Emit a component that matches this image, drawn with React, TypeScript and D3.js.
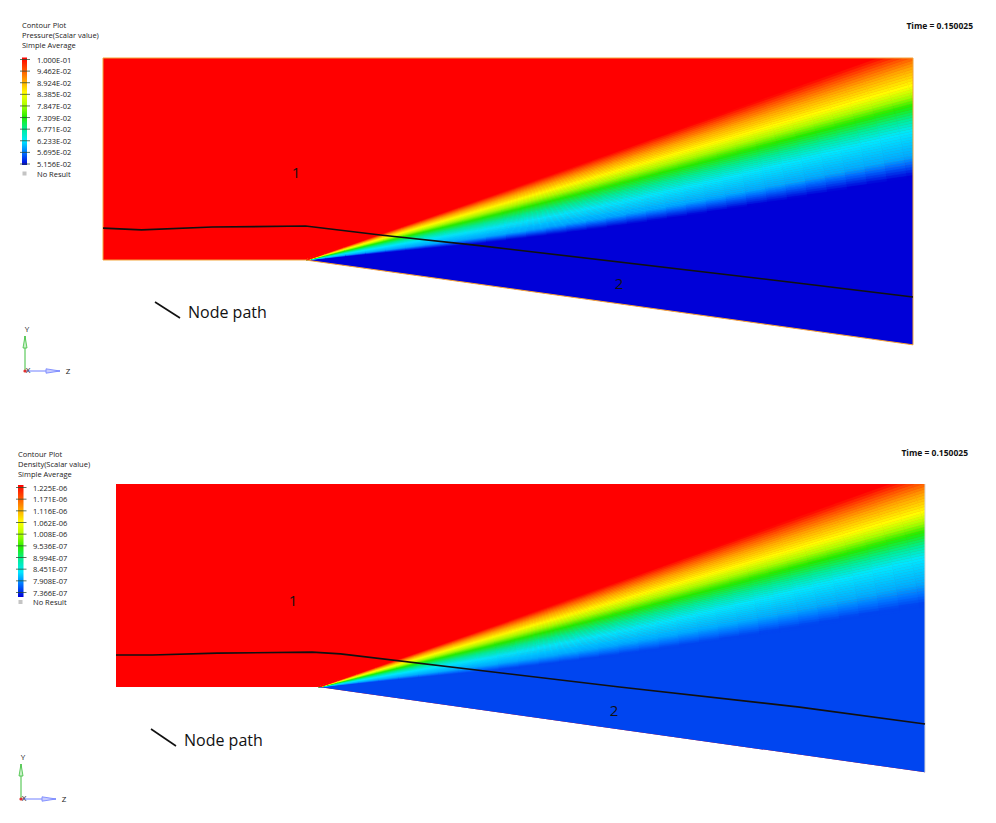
import React from "react";
import * as d3 from "d3";

// ---- geometry of the duct (model units: z along flow, y up) ----
const domainZ = [0, 4.0, 4.0, 1.0, 0];
const domainY = [1.0, 1.0, -0.42, 0, 0];
const cornerZ = 1.0;
const cornerY = 0.0;

// ---- legend ticks (top to bottom) ----
const pressureTicks = [
  "1.000E-01", "9.462E-02", "8.924E-02", "8.385E-02", "7.847E-02",
  "7.309E-02", "6.771E-02", "6.233E-02", "5.695E-02", "5.156E-02",
];
const pressureTickValues = [0.1, 0.09462, 0.08924, 0.08385, 0.07847, 0.07309, 0.06771, 0.06233, 0.05695, 0.05156];
const densityTicks = [
  "1.225E-06", "1.171E-06", "1.116E-06", "1.062E-06", "1.008E-06",
  "9.536E-07", "8.994E-07", "8.451E-07", "7.908E-07", "7.366E-07",
];
const densityTickValues = [1.225e-6, 1.171e-6, 1.116e-6, 1.062e-6, 1.008e-6, 9.536e-7, 8.994e-7, 8.451e-7, 7.908e-7, 7.366e-7];
const legendColours = [
  "#ff0000", "#ff5200", "#ffa800", "#ffff00", "#aaff00",
  "#22ee00", "#00ee99", "#00e8ff", "#0070ff", "#0000d8",
];

// ---- expansion fan: angle (deg) from the corner at which each field value is reached ----
const fanAnglesNear = [5.6, 7.4, 9.8, 13.5, 16.0, 17.4, 18.4, 19.2];
const fanAnglesFar = [7.9, 9.75, 12.0, 14.3, 16.1, 17.6, 18.7, 19.6];
const fanRadii = [0.86, 3.0];
const pressureProfile = [0.05156, 0.0595, 0.06233, 0.07309, 0.08385, 0.08924, 0.09462, 0.1];
const densityProfile = [7.7e-7, 8.18e-7, 8.451e-7, 9.536e-7, 1.062e-6, 1.116e-6, 1.171e-6, 1.225e-6];

// ---- node path polylines ----
const pressurePathZ = [0, 0.19, 0.54, 1.0, 1.37, 1.87, 3.45, 4.0];
const pressurePathY = [0.158, 0.149, 0.163, 0.168, 0.124, 0.07, -0.116, -0.183];
const densityPathZ = [0, 0.18, 0.5, 0.97, 1.11, 2.49, 3.38, 4.0];
const densityPathY = [0.158, 0.158, 0.167, 0.172, 0.163, 0.0, -0.099, -0.182];

// ---- region labels ----
const pressureRegionLabels = [
  { text: "1", z: 0.953, y: 0.436 },
  { text: "2", z: 2.548, y: -0.114 },
];
const densityRegionLabels = [
  { text: "1", z: 0.875, y: 0.429 },
  { text: "2", z: 2.462, y: -0.113 },
];

const FONT = "'Open Sans', 'DejaVu Sans', sans-serif";

type PanelCfg = {
  id: string;
  left: number; right: number; top: number; base: number;
  quantity: string;
  ticks: string[]; tickValues: number[]; profile: number[];
  pathZ: number[]; pathY: number[];
  labels: { text: string; z: number; y: number }[];
  legendX: number; titleY: number; barTop: number; barBottom: number; tickTop: number; tickBottom: number; barW: number;
  timeX: number; timeY: number;
  triX: number; triY: number; triLen: number;
  nodeLine: [number, number, number, number];
  outline: boolean;
};

function Panel({ c }: { c: PanelCfg }) {
  const sx = d3.scaleLinear().domain([0, 4]).range([c.left, c.right]);
  const sy = d3.scaleLinear().domain([0, 1]).range([c.base, c.top]);
  const colour = d3
    .scaleLinear<string>()
    .domain(c.tickValues)
    .range(legendColours)
    .interpolate(d3.interpolateRgb)
    .clamp(true);

  const domainPts = domainZ.map((z, i) => [sx(z), sy(domainY[i])] as [number, number]);
  const domainPath = "M" + domainPts.map((p) => p.join(",")).join("L") + "Z";

  const rad = Math.PI / 180;
  const pt = (r: number, a: number) =>
    `${sx(cornerZ + r * Math.cos(a * rad)).toFixed(2)},${sy(cornerY + r * Math.sin(a * rad)).toFixed(2)}`;

  // polar mesh of the fan
  const cells: { d: string; fill: string }[] = [];
  const dr = 0.1, nR = 34, da = 0.25, aMin = -9.5;
  const nA = Math.ceil((21 - aMin) / da);
  for (let i = 0; i < nR; i++) {
    const r0 = i * dr, r1 = (i + 1) * dr, rm = (r0 + r1) / 2;
    const w = Math.max(0, Math.min(1, (rm - fanRadii[0]) / (fanRadii[1] - fanRadii[0])));
    const angs = fanAnglesNear.map((n, k) => n + (fanAnglesFar[k] - n) * w);
    const val = d3.scaleLinear().domain(angs).range(c.profile).clamp(true);
    for (let j = 0; j < nA; j++) {
      const a0 = aMin + j * da, a1 = a0 + da, am = (a0 + a1) / 2;
      if (am > angs[angs.length - 1] + da) continue;
      if (a1 < angs[0] - da) continue;
      const fill = colour(val(am));
      cells.push({ d: `M${pt(r0, a0)}L${pt(r1, a0)}L${pt(r1, a1)}L${pt(r0, a1)}Z`, fill });
    }
  }
  // uniform downstream region underneath the fan mesh
  const baseAngles = [aMin, fanAnglesFar[0] + 1];
  const Rmax = nR * dr;
  const baseWedge = `M${pt(0, 0)}L${pt(Rmax, baseAngles[0])}L${pt(Rmax, baseAngles[1])}Z`;
  const baseColour = colour(c.profile[0]);

  const line = d3
    .line<number>()
    .x((_, i) => sx(c.pathZ[i]))
    .y((_, i) => sy(c.pathY[i]));

  const nT = c.ticks.length;
  const tickY = d3.scaleLinear().domain([0, nT - 1]).range([c.tickTop, c.tickBottom]);
  const gradId = `grad-${c.id}`;
  const clipId = `clip-${c.id}`;
  const titleLines = ["Contour Plot", `${c.quantity}(Scalar value)`, "Simple Average"];

  const ox = c.triX, oy = c.triY, L = c.triLen;

  return (
    <g>
      <defs>
        <clipPath id={clipId}>
          <path d={domainPath} />
        </clipPath>
        <linearGradient id={gradId} x1="0" y1="0" x2="0" y2="1">
          {legendColours.map((col, i) => (
            <stop key={i} offset={`${(i / (legendColours.length - 1)) * 100}%`} stopColor={col} />
          ))}
        </linearGradient>
      </defs>

      {/* field */}
      <path d={domainPath} fill="#ff0000" />
      <g clipPath={`url(#${clipId})`}>
        <path d={baseWedge} fill={baseColour} />
        {cells.map((cl, i) => (
          <path key={i} d={cl.d} fill={cl.fill} stroke={cl.fill} strokeWidth={0.6} />
        ))}
      </g>
      {c.outline ? (
        <path d={domainPath} fill="none" stroke="#f3a53a" strokeWidth={1} />
      ) : (
        <line x1={sx(4)} y1={sy(1)} x2={sx(4)} y2={sy(-0.42)} stroke="#d8d8d8" strokeWidth={1} />
      )}

      {/* node path */}
      <path d={line(c.pathZ) || ""} fill="none" stroke="#111" strokeWidth={1.6} />

      {c.labels.map((l, i) => (
        <text key={i} x={sx(l.z)} y={sy(l.y)} fontFamily={FONT} fontSize={15} fill="#111" textAnchor="middle" dominantBaseline="central">
          {l.text}
        </text>
      ))}

      <line x1={c.nodeLine[0]} y1={c.nodeLine[1]} x2={c.nodeLine[2]} y2={c.nodeLine[3]} stroke="#111" strokeWidth={1.6} />
      <text x={c.nodeLine[2] + 8} y={c.nodeLine[3] - 6} fontFamily={FONT} fontSize={16} fill="#111" dominantBaseline="central">
        Node path
      </text>

      {/* legend */}
      {titleLines.map((t, i) => (
        <text key={i} x={c.legendX} y={c.titleY + i * 10} fontFamily={FONT} fontSize={7.5} fill="#222" dominantBaseline="central">
          {t}
        </text>
      ))}
      <rect x={c.legendX} y={c.barTop} width={c.barW} height={c.barBottom - c.barTop} fill={`url(#${gradId})`} />
      {c.ticks.map((t, i) => (
        <g key={i}>
          <line x1={c.legendX - 2} x2={c.legendX + c.barW + 3} y1={tickY(i)} y2={tickY(i)} stroke="#2a4a30" strokeOpacity={0.75} strokeWidth={1} />
          <text x={c.legendX + 15} y={tickY(i)} fontFamily={FONT} fontSize={7.5} fill="#222" dominantBaseline="central">
            {t}
          </text>
        </g>
      ))}
      <rect x={c.legendX + 0.5} y={c.tickBottom + 7.5} width={4} height={4} fill="#c4c4c4" />
      <text x={c.legendX + 15} y={c.tickBottom + 9.5} fontFamily={FONT} fontSize={7.5} fill="#222" dominantBaseline="central">
        No Result
      </text>

      {/* time */}
      <text x={c.timeX} y={c.timeY} fontFamily={FONT} fontSize={8.5} fontWeight="bold" fill="#111" textAnchor="end" dominantBaseline="central">
        Time = 0.150025
      </text>

      {/* axis triad */}
      <line x1={ox} y1={oy} x2={ox} y2={oy - L} stroke="#3cbf3c" strokeWidth={1} />
      <path d={`M${ox},${oy - L}L${ox - 2},${oy - L + 12}L${ox + 2},${oy - L + 12}Z`} fill="#c9f0c9" stroke="#3cbf3c" strokeWidth={0.8} />
      <line x1={ox} y1={oy} x2={ox + L} y2={oy} stroke="#7080ff" strokeWidth={1} />
      <path d={`M${ox + L},${oy}L${ox + L - 14},${oy - 2.2}L${ox + L - 14},${oy + 2.2}Z`} fill="#c8ccff" stroke="#7080ff" strokeWidth={0.8} />
      <circle cx={ox} cy={oy} r={1.6} fill="#e03030" />
      <text x={ox + 2} y={oy - L - 8} fontFamily={FONT} fontSize={8} fill="#222" textAnchor="middle" dominantBaseline="central">Y</text>
      <text x={ox + 3} y={oy - 2} fontFamily={FONT} fontSize={8} fill="#222" textAnchor="middle" dominantBaseline="central">X</text>
      <text x={ox + L + 8} y={oy - 1} fontFamily={FONT} fontSize={8} fill="#222" textAnchor="middle" dominantBaseline="central">Z</text>
    </g>
  );
}

const topPanel: PanelCfg = {
  id: "p", left: 103, right: 913, top: 58, base: 260,
  quantity: "Pressure",
  ticks: pressureTicks, tickValues: pressureTickValues, profile: pressureProfile,
  pathZ: pressurePathZ, pathY: pressurePathY, labels: pressureRegionLabels,
  legendX: 22, titleY: 25, barTop: 57.5, barBottom: 165, tickTop: 59.5, tickBottom: 164, barW: 5,
  timeX: 973, timeY: 25,
  triX: 25, triY: 371, triLen: 35,
  nodeLine: [155, 302, 180, 318],
  outline: true,
};

const bottomPanel: PanelCfg = {
  id: "d", left: 116, right: 925, top: 484, base: 687,
  quantity: "Density",
  ticks: densityTicks, tickValues: densityTickValues, profile: densityProfile,
  pathZ: densityPathZ, pathY: densityPathY, labels: densityRegionLabels,
  legendX: 18, titleY: 454, barTop: 485, barBottom: 597, tickTop: 487.5, tickBottom: 592.5, barW: 5.5,
  timeX: 968, timeY: 452,
  triX: 21, triY: 799, triLen: 35,
  nodeLine: [151, 729, 176, 746],
  outline: false,
};

export default function App() {
  return (
    <svg
      width={996}
      height={823}
      viewBox="0 0 996 823"
      style={{ position: "absolute", left: 0, top: 0, background: "#ffffff" }}
    >
      <rect width={996} height={823} fill="#ffffff" />
      <Panel c={topPanel} />
      <Panel c={bottomPanel} />
    </svg>
  );
}
